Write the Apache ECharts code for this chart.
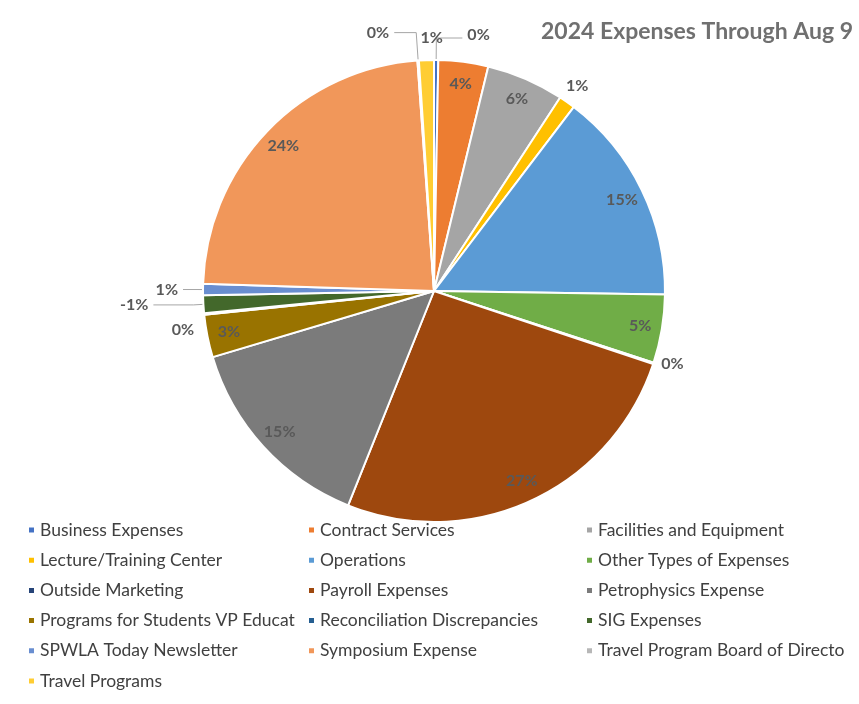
<!DOCTYPE html>
<html><head><meta charset="utf-8">
<script src="https://cdn.jsdelivr.net/npm/echarts/dist/echarts.min.js"></script>
<style>html,body{margin:0;padding:0;background:#fff}#c{width:859px;height:704px}</style>
</head><body><div id="c"></div>
<script>
const chartTitle = '2024 Expenses Through Aug 9';
const categories = [
  'Business Expenses', 'Contract Services', 'Facilities and Equipment',
  'Lecture/Training Center', 'Operations', 'Other Types of Expenses',
  'Outside Marketing', 'Payroll Expenses', 'Petrophysics Expense',
  'Programs for Students VP Educat', 'Reconciliation Discrepancies', 'SIG Expenses',
  'SPWLA Today Newsletter', 'Symposium Expense', 'Travel Program Board of Directo',
  'Travel Programs'
];
// share of expenses (percent units), SIG is negative
const shares = [0.3, 3.5, 5.45, 1.15, 15.0, 4.8, 0.1, 26.1, 14.4, 3.0, 0.1, -1.25, 0.8, 23.5, 0.1, 1.05];
const colors = ['#4472C4', '#ED7D31', '#A5A5A5', '#FFC000', '#5B9BD5', '#70AD47',
  '#264478', '#9E480E', '#7B7B7B', '#997300', '#255E91', '#43682B',
  '#698ED0', '#F1975A', '#B7B7B7', '#FFCD33'];
const legendColumns = [[0, 3, 6, 9, 12, 15], [1, 4, 7, 10, 13], [2, 5, 8, 11, 14]];

const signedSum = shares.reduce((a, b) => a + b, 0);
const pctText = v => Math.round(v / signedSum * 100) + '%';

// label styling for the small slices (outside)
const outsideCfg = {
  'Business Expenses': { len: 22, len2: 26, line: true, dy: -3 },
  'Lecture/Training Center': { len: 12, len2: 0, line: false, dx: -13, dy: -6 },
  'Outside Marketing': { len: 3, len2: 0, line: false },
  'Reconciliation Discrepancies': { len: 5, len2: 0, line: false, dy: 15 },
  'SIG Expenses': { len: 10, len2: 40, line: true },
  'SPWLA Today Newsletter': { len: 5, len2: 15, line: true },
  'Travel Program Board of Directo': { len: 28, len2: 22, line: true },
  'Travel Programs': { len: 18, len2: 0, line: false, dx: 22, dy: -4 }
};
const labelFont = { fontFamily: 'Lato', fontWeight: 'bold', fontSize: 16, color: '#595959' };

const mainData = categories.map((name, i) => {
  const cfg = outsideCfg[name];
  return {
    name, value: Math.abs(shares[i]),
    itemStyle: { color: colors[i] },
    label: cfg ? { show: true, position: 'outside' } : { show: false },
    labelLine: cfg ? { show: cfg.line, length: cfg.len, length2: cfg.len2 } : { show: false }
  };
});
const overlayData = categories.map((name, i) => ({
  name, value: Math.abs(shares[i]),
  label: { show: !outsideCfg[name] }
}));

const chart = echarts.init(document.getElementById('c'), null, { renderer: 'canvas' });
chart.setOption({
  backgroundColor: '#fff',
  animation: false,
  color: colors,
  title: {
    text: chartTitle, right: 1, top: 15,
    textStyle: { fontFamily: 'Lato', fontWeight: 'bold', fontSize: 23, color: '#707070' }
  },
  legend: legendColumns.map((col, i) => ({
    orient: 'vertical', left: [22, 302, 580][i], top: 515,
    data: col.map(k => categories[k]),
    icon: 'rect', itemWidth: 7, itemHeight: 7, itemGap: 10.2,
    selectedMode: false,
    textStyle: { fontFamily: 'Lato', fontSize: 17.5, color: '#404040', lineHeight: 20 }
  })),
  series: [{
    type: 'pie', center: [434, 291], radius: [0, 231],
    startAngle: 90, clockwise: true, avoidLabelOverlap: false,
    itemStyle: { borderColor: '#fff', borderWidth: 2 },
    label: Object.assign({ formatter: p => pctText(shares[p.dataIndex]) }, labelFont),
    labelLine: { lineStyle: { color: '#A6A6A6', width: 1 } },
    labelLayout: function (p) {
      const cfg = outsideCfg[categories[p.dataIndex]];
      return { dx: (cfg && cfg.dx) || 0, dy: (cfg && cfg.dy) || 0 };
    },
    emphasis: { disabled: true },
    data: mainData
  }, {
    type: 'pie', center: [434, 291], radius: [181, 231],
    startAngle: 90, clockwise: true, avoidLabelOverlap: false, silent: true,
    itemStyle: { color: 'rgba(0,0,0,0)', borderWidth: 0 },
    label: Object.assign({ position: 'inside', formatter: p => pctText(shares[p.dataIndex]) }, labelFont),
    labelLine: { show: false },
    emphasis: { disabled: true },
    data: overlayData
  }]
});
</script></body></html>
